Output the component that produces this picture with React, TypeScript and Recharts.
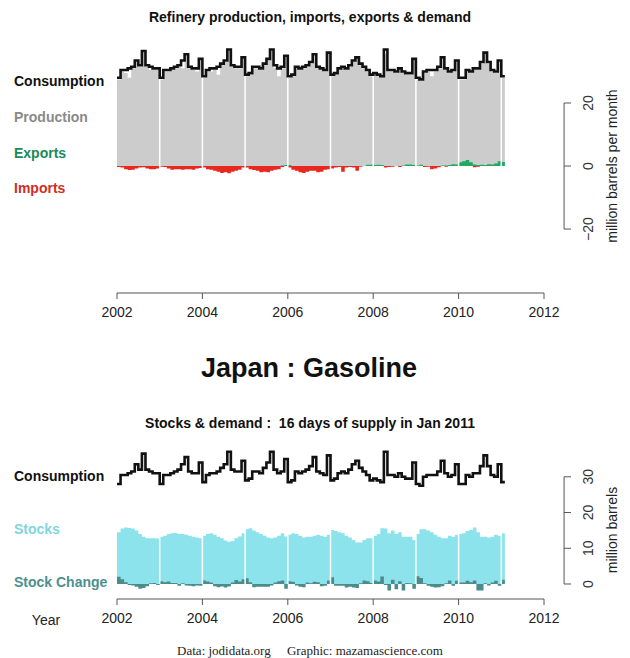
import React from 'react';
import { ComposedChart, Area, Line, XAxis, YAxis, ReferenceLine } from 'recharts';

const START_YEAR = 2002;

// Monthly values, Jan 2002 .. Jan 2011 (million barrels)
const consumption = [
  28.0, 30.5, 30.5, 31.0, 31.5, 33.5, 32.0, 36.5, 32.0, 31.5, 31.0, 31.0,
  28.0, 30.5, 30.5, 31.0, 31.5, 32.0, 33.5, 35.5, 31.5, 31.0, 31.0, 34.0,
  28.5, 30.5, 31.0, 31.0, 31.5, 32.5, 33.5, 37.0, 32.0, 31.5, 31.5, 34.5,
  29.0, 29.5, 31.5, 31.5, 31.0, 32.5, 34.0, 37.0, 32.0, 31.0, 31.5, 35.0,
  28.5, 29.0, 31.5, 31.0, 31.5, 32.0, 33.0, 35.5, 31.5, 31.0, 30.5, 36.0,
  29.0, 29.5, 31.0, 31.5, 31.0, 32.0, 33.5, 34.5, 32.5, 31.5, 30.5, 29.0,
  29.5, 29.0, 28.5, 37.0, 30.5, 30.5, 30.0, 31.0, 30.0, 29.5, 29.5, 34.0,
  28.0, 27.5, 30.0, 30.5, 30.5, 30.5, 31.5, 34.5, 31.0, 30.0, 30.5, 33.5,
  28.0, 28.0, 30.5, 30.0, 31.0, 31.0, 33.0, 36.0, 33.0, 30.5, 30.0, 33.5,
  28.5,
];

const production = [
  27.5, 30.0, 29.5, 28.0, 31.0, 33.0, 31.5, 36.0, 31.5, 30.5, 30.5, 30.5,
  27.5, 30.0, 30.0, 30.5, 31.0, 31.5, 31.0, 35.0, 31.0, 30.5, 30.0, 33.5,
  28.0, 30.0, 30.0, 30.5, 29.0, 32.0, 33.0, 36.5, 31.5, 31.0, 31.0, 34.0,
  28.5, 29.0, 31.0, 31.0, 30.5, 32.0, 33.5, 36.5, 31.0, 28.5, 31.0, 34.5,
  28.0, 28.5, 31.0, 30.5, 31.0, 31.5, 32.5, 35.0, 31.0, 30.5, 30.0, 35.5,
  28.5, 29.0, 30.5, 31.0, 30.5, 31.5, 33.0, 34.0, 32.0, 31.0, 30.0, 28.5,
  29.0, 28.5, 28.5, 35.5, 30.0, 30.0, 29.5, 30.5, 29.5, 29.0, 29.0, 33.5,
  27.5, 27.0, 29.5, 30.0, 28.5, 30.0, 31.0, 34.0, 30.5, 29.5, 30.0, 33.0,
  27.5, 27.5, 30.0, 29.5, 30.5, 30.5, 32.5, 35.5, 32.5, 30.0, 29.5, 33.0,
  28.0,
];

const exportsSeries = [
  0, 0, 0, 0, 0, 0, 0, 0, 0, 0, 0, 0,
  0, 0, 0, 0, 0, 0, 0, 0, 0, 0, 0, 0,
  0, 0, 0, 0, 0, 0, 0, 0, 0, 0, 0, 0,
  0, 0, 0, 0, 0, 0, 0, 0, 0, 0, 0.2, 0.3,
  0.3, 0, 0, 0, 0, 0, 0, 0, 0, 0, 0, 0,
  0, 0, 0, 0, 0, 0, 0, 0, 0, 0, 0.4, 0.4,
  0.3, 0.4, 0.3, 0, 0, 0, 0, 0, 0.2, 0.5, 0.5, 0.3,
  0.2, 0.4, 0, 0, 0, 0, 0, 0.2, 0.2, 0.3, 0.6, 0.5,
  1.2, 1.5, 1.9, 1.2, 0.5, 0.3, 0.4, 0.3, 0.6, 0.5, 0.8, 1.5,
  1.3,
];

const importsSeries = [
  -0.3, -0.5, -1.0, -1.3, -1.2, -0.8, -0.5, -0.4, -0.8, -1.0, -1.0, -0.8,
  -0.2, -0.3, -0.8, -1.2, -1.0, -1.0, -1.2, -1.0, -1.0, -1.2, -0.8, -0.6,
  -0.5, -1.0, -1.2, -1.5, -1.8, -2.2, -2.0, -2.3, -1.8, -1.5, -1.2, -0.5,
  -0.5, -1.0, -1.3, -1.5, -2.0, -1.8, -2.0, -1.5, -1.2, -1.0, -0.3, 0,
  -0.5, -1.2, -1.5, -2.0, -2.2, -1.8, -1.5, -1.5, -2.0, -1.8, -1.2, -1.0,
  -0.8, -0.5, -0.3, -1.8, -0.5, -0.3, -0.5, -1.5, -0.2, 0, 0, 0,
  0, 0, 0, -0.5, -0.3, -0.2, 0, -0.3, 0, 0, 0, 0,
  0, 0, -0.3, -0.2, -1.0, -0.8, -0.4, 0, -0.2, 0, 0, 0,
  0, 0, 0, 0, -0.4, -0.2, 0, 0, 0, 0, 0, 0,
  0,
];

const stocks = [
  14.5, 15.5, 15.8, 15.7, 15.5, 15.0, 14.0, 13.2, 12.8, 12.8, 12.8, 12.7,
  13.2, 13.5, 14.0, 14.2, 14.3, 14.0, 14.0, 13.8, 13.5, 13.2, 13.0, 12.8,
  13.5, 14.0, 14.2, 13.8, 13.2, 12.8, 12.2, 11.8, 12.0, 12.8, 13.3, 14.2,
  15.3, 15.6, 15.0, 14.5, 14.0, 13.5, 13.0, 12.8, 13.0, 13.5, 14.2, 13.3,
  13.8, 14.2, 14.0, 13.5, 13.0, 13.2, 13.2, 13.5, 13.8, 13.5, 13.2, 13.8,
  15.1, 14.8, 14.5, 14.2, 13.5, 13.0, 12.3, 11.6, 11.6, 12.3, 12.8, 12.8,
  13.5, 14.0, 15.6, 15.5, 14.2, 15.0, 14.0, 14.5, 13.2, 13.2, 13.2, 12.3,
  14.0, 15.3, 15.3, 15.0, 14.5, 13.8, 13.2, 12.8, 12.8, 13.5, 13.2, 13.8,
  14.0, 14.2, 14.8, 15.1, 15.8, 14.5, 13.2, 13.2, 13.0, 13.2, 13.8, 13.5,
  14.2,
];

const stockChange = [
  2.0, 1.3, 0.5, -0.3, -0.4, -0.8, -1.3, -1.1, -0.6, 0.2, 0.3, -0.3,
  0.8, 0.5, 0.7, 0.3, 0.3, -0.5, 0.2, -0.4, -0.5, -0.6, -0.4, -0.5,
  1.0, 0.7, 0.4, -0.6, -0.9, -0.7, -1.0, -0.7, 0.4, 1.1, 0.7, 1.3,
  1.6, 0.5, -0.9, -0.8, -0.8, -0.8, -0.8, -0.4, 0.4, 0.8, 1.0, -1.3,
  0.8, 0.6, -0.4, -0.8, -0.9, 0.4, 0.2, 0.6, 0.5, -0.6, -0.5, 1.0,
  1.9, -0.5, -0.5, -0.5, -1.0, -0.8, -1.0, -1.1, 0.2, 1.0, 0.8, 0.3,
  1.0, 0.7, 2.1, -0.3, -1.8, 1.2, -1.5, 0.8, -1.8, 0.3, 0.2, -1.3,
  2.2, 1.7, 0.2, -0.5, -0.8, -1.0, -0.9, -0.6, 0.2, 1.0, -0.5, 0.9,
  0.4, 0.4, 0.9, 0.5, 1.0, -1.8, -1.8, 0.2, -0.4, 0.4, 0.9, -0.5,
  1.2,
];

const yearTicks = [2002, 2004, 2006, 2008, 2010, 2012];
const yearBreaks = [2003, 2004, 2005, 2006, 2007, 2008, 2009, 2010, 2011];
const topYTicks = [-20, 0, 20];
const bottomYTicks = [0, 10, 20, 30];
const X_DOMAIN: [number, number] = [2002, 2012];
const TOP_Y_DOMAIN: [number, number] = [-40.3, 40];
const BOTTOM_Y_DOMAIN: [number, number] = [-4.2, 40.3];
const RIGHT_AXIS_X = 2012.47;

const FONT = '"Liberation Sans", Arial, Helvetica, sans-serif';
const AXIS_COLOR = '#555';

type Row = {
  t: number;
  consumption: number;
  production: number;
  exports: number;
  imports: number;
  stocks: number;
  stockChange: number;
};

function buildRows(): Row[] {
  const rows: Row[] = consumption.map((c, i) => ({
    t: START_YEAR + i / 12,
    consumption: c,
    production: production[i],
    exports: exportsSeries[i],
    imports: importsSeries[i],
    stocks: stocks[i],
    stockChange: stockChange[i],
  }));
  const last = rows[rows.length - 1];
  rows.push({ ...last, t: START_YEAR + consumption.length / 12 });
  return rows;
}

const rows = buildRows();

const fmt = (v: number) => (v < 0 ? '\u2212' + Math.abs(v) : String(v));

const RightTick = (props: any) => {
  const { x, y, payload } = props;
  const lx = x + 20;
  const tx = x + 44;
  return (
    <g>
      <line x1={lx} x2={lx + 7} y1={y} y2={y} stroke={AXIS_COLOR} strokeWidth={1} />
      <text
        x={tx}
        y={y}
        transform={`rotate(-90 ${tx} ${y})`}
        textAnchor="middle"
        dominantBaseline="central"
        fontSize={14}
        fill="#333"
        fontFamily={FONT}
      >
        {fmt(payload.value)}
      </text>
    </g>
  );
};

const xAxisProps = {
  type: 'number' as const,
  dataKey: 't',
  domain: X_DOMAIN,
  ticks: yearTicks,
  interval: 0 as const,
  allowDataOverflow: true,
  height: 30,
  stroke: AXIS_COLOR,
  tickSize: 6,
  tickMargin: 8,
  tick: { fontSize: 14, fill: '#222', fontFamily: FONT },
};

function TopChart() {
  return (
    <ComposedChart
      width={630}
      height={330}
      data={rows}
      margin={{ top: 40, right: 0, bottom: 7, left: 117 }}
    >
      <XAxis {...xAxisProps} />
      <YAxis
        orientation="right"
        type="number"
        domain={TOP_Y_DOMAIN}
        ticks={topYTicks}
        allowDataOverflow
        axisLine={false}
        tickLine={false}
        tickSize={0}
        tickMargin={0}
        width={86}
        tick={<RightTick />}
      />
      <Area
        type="stepAfter"
        dataKey="production"
        fill="#cccccc"
        fillOpacity={1}
        stroke="none"
        baseValue={0}
        isAnimationActive={false}
      />
      <Area
        type="stepAfter"
        dataKey="exports"
        fill="#22a862"
        fillOpacity={1}
        stroke="none"
        baseValue={0}
        isAnimationActive={false}
      />
      <Area
        type="stepAfter"
        dataKey="imports"
        fill="#e8281f"
        fillOpacity={1}
        stroke="none"
        baseValue={0}
        isAnimationActive={false}
      />
      {yearBreaks.map((yr) => (
        <ReferenceLine
          key={yr}
          segment={[
            { x: yr, y: -5 },
            { x: yr, y: 38 },
          ]}
          stroke="#ffffff"
          strokeWidth={1.5}
          ifOverflow="visible"
        />
      ))}
      <ReferenceLine
        segment={[
          { x: RIGHT_AXIS_X, y: topYTicks[0] },
          { x: RIGHT_AXIS_X, y: topYTicks[topYTicks.length - 1] },
        ]}
        stroke={AXIS_COLOR}
        strokeWidth={1}
        ifOverflow="visible"
      />
      <Line
        type="stepAfter"
        dataKey="consumption"
        stroke="#111"
        strokeWidth={2.6}
        dot={false}
        isAnimationActive={false}
      />
    </ComposedChart>
  );
}

function BottomChart() {
  return (
    <ComposedChart
      width={630}
      height={200}
      data={rows}
      margin={{ top: 10, right: 0, bottom: 1, left: 117 }}
    >
      <XAxis {...xAxisProps} />
      <YAxis
        orientation="right"
        type="number"
        domain={BOTTOM_Y_DOMAIN}
        ticks={bottomYTicks}
        allowDataOverflow
        axisLine={false}
        tickLine={false}
        tickSize={0}
        tickMargin={0}
        width={86}
        tick={<RightTick />}
      />
      <Area
        type="stepAfter"
        dataKey="stocks"
        fill="#8ce3ec"
        fillOpacity={1}
        stroke="none"
        baseValue={0}
        isAnimationActive={false}
      />
      <Area
        type="stepAfter"
        dataKey="stockChange"
        fill="#4c8b8b"
        fillOpacity={1}
        stroke="none"
        baseValue={0}
        isAnimationActive={false}
      />
      {yearBreaks.map((yr) => (
        <ReferenceLine
          key={yr}
          segment={[
            { x: yr, y: 0 },
            { x: yr, y: 17 },
          ]}
          stroke="#ffffff"
          strokeWidth={1.5}
          ifOverflow="visible"
        />
      ))}
      <ReferenceLine
        segment={[
          { x: RIGHT_AXIS_X, y: bottomYTicks[0] },
          { x: RIGHT_AXIS_X, y: bottomYTicks[bottomYTicks.length - 1] },
        ]}
        stroke={AXIS_COLOR}
        strokeWidth={1}
        ifOverflow="visible"
      />
      <Line
        type="stepAfter"
        dataKey="consumption"
        stroke="#111"
        strokeWidth={2.6}
        dot={false}
        isAnimationActive={false}
      />
    </ComposedChart>
  );
}

const labelStyle = { fontFamily: FONT, fontSize: 14, fontWeight: 700 } as const;

export default function App() {
  return (
    <div
      style={{
        position: 'absolute',
        left: 0,
        top: 0,
        width: 630,
        height: 658,
        background: '#ffffff',
        overflow: 'hidden',
      }}
    >
      <div style={{ position: 'absolute', left: 0, top: 0 }}>
        <TopChart />
      </div>
      <div style={{ position: 'absolute', left: 0, top: 430 }}>
        <BottomChart />
      </div>
      <svg
        width={630}
        height={658}
        style={{ position: 'absolute', left: 0, top: 0, pointerEvents: 'none' }}
      >
        <text x={310} y={17} textAnchor="middle" dominantBaseline="central" fill="#111" {...labelStyle}>
          Refinery production, imports, exports &amp; demand
        </text>
        <text x={14} y={81} dominantBaseline="central" fill="#111" {...labelStyle}>Consumption</text>
        <text x={14} y={117} dominantBaseline="central" fill="#8a8a8a" {...labelStyle}>Production</text>
        <text x={14} y={153} dominantBaseline="central" fill="#1b8a57" {...labelStyle}>Exports</text>
        <text x={14} y={188} dominantBaseline="central" fill="#d42b24" {...labelStyle}>Imports</text>
        <text
          x={612}
          y={166}
          transform="rotate(-90 612 166)"
          textAnchor="middle"
          dominantBaseline="central"
          fontFamily={FONT}
          fontSize={14}
          fill="#222"
        >
          million barrels per month
        </text>
        <text x={309} y={368} textAnchor="middle" dominantBaseline="central" fill="#111" fontFamily={FONT} fontSize={27} fontWeight={700}>
          Japan : Gasoline
        </text>
        <text x={310} y={423} textAnchor="middle" dominantBaseline="central" fill="#111" style={{ whiteSpace: 'pre' }} {...labelStyle}>
          {'Stocks & demand :  16 days of supply in Jan 2011'}
        </text>
        <text x={14} y={476} dominantBaseline="central" fill="#111" {...labelStyle}>Consumption</text>
        <text x={14} y={529} dominantBaseline="central" fill="#7fd6de" {...labelStyle}>Stocks</text>
        <text x={14} y={582} dominantBaseline="central" fill="#4d8f8f" {...labelStyle}>Stock Change</text>
        <text
          x={612}
          y={530}
          transform="rotate(-90 612 530)"
          textAnchor="middle"
          dominantBaseline="central"
          fontFamily={FONT}
          fontSize={14}
          fill="#222"
        >
          million barrels
        </text>
        <text x={46} y={620} textAnchor="middle" dominantBaseline="central" fontFamily={FONT} fontSize={14} fill="#222">
          Year
        </text>
        <text
          x={310}
          y={650}
          textAnchor="middle"
          dominantBaseline="central"
          fontFamily='"Liberation Serif", "Times New Roman", serif'
          fontSize={13}
          fill="#222"
          style={{ whiteSpace: 'pre' }}
        >
          {'Data: jodidata.org     Graphic: mazamascience.com'}
        </text>
      </svg>
    </div>
  );
}
